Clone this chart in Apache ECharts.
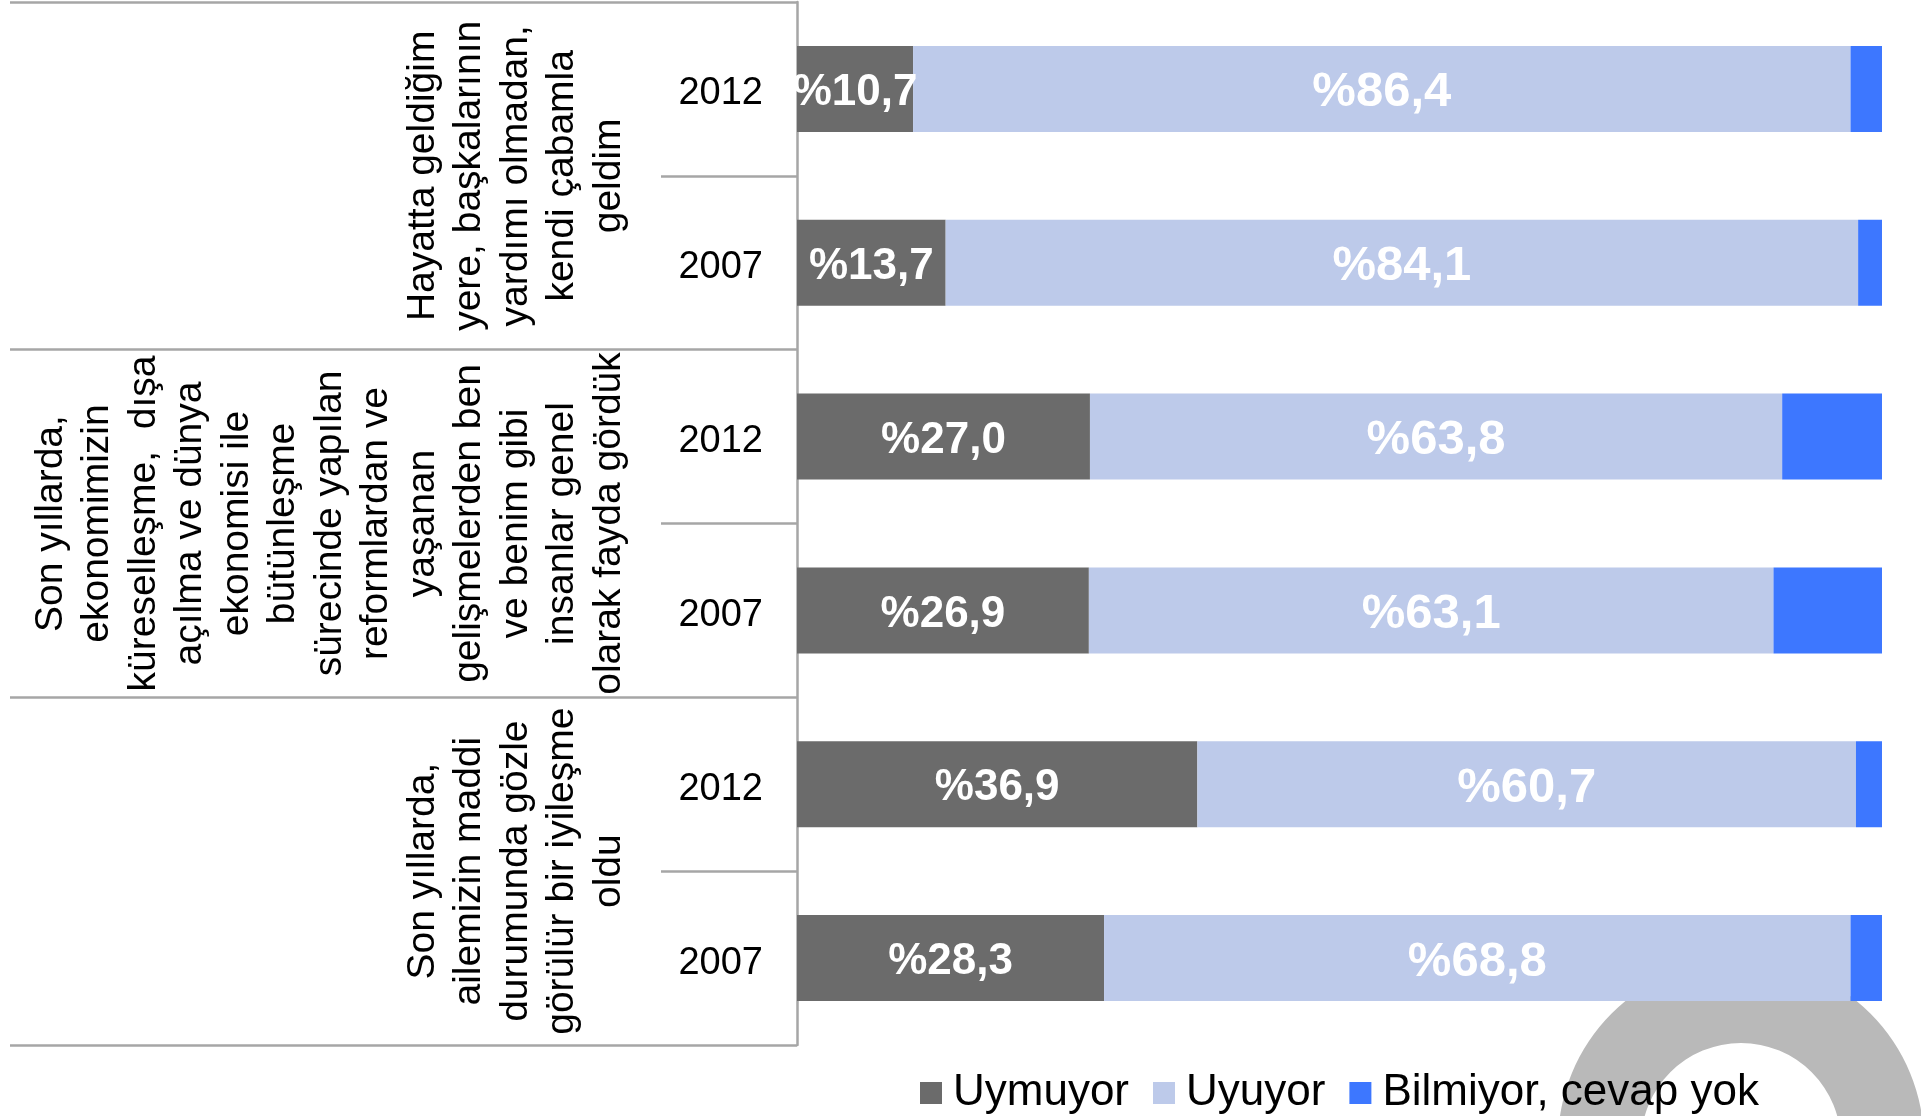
<!DOCTYPE html>
<html>
<head>
<meta charset="utf-8">
<title>Uymuyor / Uyuyor</title>
<script src="https://cdn.jsdelivr.net/npm/echarts@6/dist/echarts.min.js"></script>
<style>
  html, body { margin: 0; padding: 0; background: #fff; }
  #chart { width: 1921px; height: 1116px; }
</style>
</head>
<body>
<div id="chart"></div>
<script>
// rows, top to bottom
var years = ['2012', '2007', '2012', '2007', '2012', '2007'];
// statement groups, two rows each
var groups = [
  'Hayatta geldiğim\nyere, başkalarının\nyardımı olmadan,\nkendi çabamla\ngeldim',
  'Son yıllarda,\nekonomimizin\nküreselleşme,  dışa\naçılma ve dünya\nekonomisi ile\nbütünleşme\nsürecinde yapılan\nreformlardan ve\nyaşanan\ngelişmelerden ben\nve benim gibi\ninsanlar genel\nolarak fayda gördük',
  'Son yıllarda,\nailemizin maddi\ndurumunda gözle\ngörülür bir iyileşme\noldu'
];
var uymuyor = [10.7, 13.7, 27.0, 26.9, 36.9, 28.3];
var uyuyor = [86.4, 84.1, 63.8, 63.1, 60.7, 68.8];
var bilmiyor = [2.9, 2.2, 9.2, 10.0, 2.4, 2.9];

var FONT = '"Liberation Sans", Arial, sans-serif';
var LINE = '#A6A6A6';

function pct (p) {
  return '%' + p.value.toFixed(1).replace('.', ',');
}

var chart = echarts.init(document.getElementById('chart'));

chart.setOption({
  animation: false,
  textStyle: { fontFamily: FONT },
  // decorative ring in the bottom right corner
  graphic: [{
    type: 'ring',
    z: -10,
    silent: true,
    shape: { cx: 1741, cy: 1143, r: 183, r0: 100 },
    style: { fill: '#B9B9B9' }
  }],
  grid: {
    left: 797,
    right: 39,
    top: 2,
    bottom: 71,
    containLabel: false,
    outerBoundsMode: 'none'
  },
  legend: {
    left: 915,
    top: 1066,
    icon: 'rect',
    itemWidth: 22,
    itemHeight: 22,
    itemGap: 24,
    textStyle: { fontFamily: FONT, fontSize: 44, color: '#000', padding: [0, 0, 0, 6] },
    data: ['Uymuyor', 'Uyuyor', 'Bilmiyor, cevap yok']
  },
  xAxis: {
    type: 'value',
    min: 0,
    max: 100,
    show: false
  },
  yAxis: [{
    type: 'category',
    position: 'left',
    inverse: true,
    data: years,
    axisLine: { show: true, lineStyle: { color: LINE, width: 2.5 } },
    axisTick: { show: true, interval: 0, length: 136, lineStyle: { color: LINE, width: 2.5 } },
    axisLabel: {
      interval: 0,
      margin: 34,
      align: 'right',
      formatter: function (v) { return '{y|' + v + '}'; },
      rich: {
        y: {
          fontFamily: FONT,
          fontSize: 38,
          color: '#000',
          padding: [10, 0, 0, 0]
        }
      }
    },
    splitLine: { show: false }
  }, {
    type: 'category',
    position: 'left',
    inverse: true,
    data: groups,
    axisLine: { show: false },
    axisTick: { show: true, interval: 0, length: 787, lineStyle: { color: LINE, width: 2.5 } },
    axisLabel: {
      interval: 0,
      rotate: 90,
      margin: 165,
      align: 'center',
      verticalAlign: 'bottom',
      fontFamily: FONT,
      fontSize: 39,
      lineHeight: 46.5,
      color: '#000'
    },
    splitLine: { show: false }
  }],
  series: [{
    name: 'Uymuyor',
    type: 'bar',
    stack: 'all',
    barWidth: 86,
    yAxisIndex: 0,
    itemStyle: { color: '#6B6B6B' },
    label: {
      show: true,
      position: 'inside',
      offset: [0, 4],
      formatter: pct,
      fontFamily: FONT,
      fontSize: 44,
      fontWeight: 'bold',
      color: '#fff'
    },
    data: uymuyor
  }, {
    name: 'Uyuyor',
    type: 'bar',
    stack: 'all',
    barWidth: 86,
    yAxisIndex: 0,
    itemStyle: { color: '#BDCAEA' },
    label: {
      show: true,
      position: 'inside',
      offset: [0, 4],
      formatter: pct,
      fontFamily: FONT,
      fontSize: 49,
      fontWeight: 'bold',
      color: '#fff'
    },
    data: uyuyor
  }, {
    name: 'Bilmiyor, cevap yok',
    type: 'bar',
    stack: 'all',
    barWidth: 86,
    yAxisIndex: 0,
    itemStyle: { color: '#3D77FF' },
    label: { show: false },
    data: bilmiyor
  }]
});
</script>
</body>
</html>
